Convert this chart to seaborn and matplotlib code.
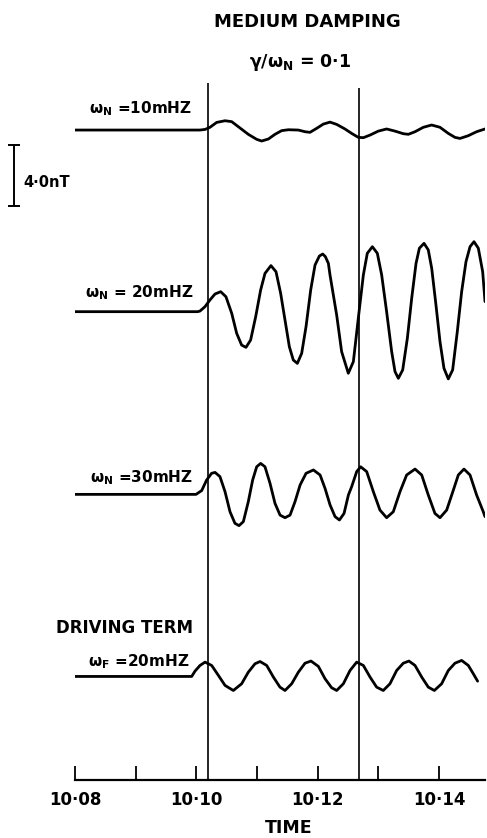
import numpy as np
import pandas as pd
import matplotlib
matplotlib.use('Agg')
import matplotlib.pyplot as plt
import seaborn as sns

# 시간은 10:08:00 이후 초(s), 값은 기준선 대비 nT
t_10 = [0, 123.6, 128.6, 133.5, 140.1, 148.4, 155.0, 161.5, 171.4, 179.7,
        184.6, 191.2, 197.8, 204.4, 211.0, 220.9, 227.5, 232.4, 239.0, 245.6,
        252.2, 258.8, 267.0, 273.6, 280.2, 285.2, 291.8, 300.0, 308.2, 316.5,
        324.7, 329.7, 336.3, 344.5, 352.7, 361.0, 369.2, 375.8, 380.8, 389.0,
        397.2, 405.5]
b_10 = [0, 0, 0.04, 0.18, 0.50, 0.61, 0.55, 0.22, -0.28, -0.61,
        -0.72, -0.59, -0.28, -0.04, 0.02, 0.0, -0.11, -0.15, 0.11, 0.39,
        0.52, 0.37, 0.07, -0.22, -0.48, -0.50, -0.33, -0.07, 0.07, -0.07,
        -0.24, -0.28, -0.11, 0.18, 0.33, 0.18, -0.22, -0.48, -0.55, -0.37,
        -0.11, 0.07]

t_20 = [0, 121.3, 123.6, 128.6, 133.5, 138.5, 144.1, 149.3, 155.0, 159.9,
        164.8, 169.1, 173.7, 178.7, 183.6, 187.9, 193.8, 198.8, 203.4, 207.7,
        212.0, 215.9, 219.9, 224.2, 228.5, 233.1, 237.4, 241.7, 245.0, 247.6,
        250.6,
        252.2, 258.8, 263.7, 270.3, 275.3, 280.2, 285.2, 289.1, 294.1, 299.0,
        303.3, 308.2, 313.2, 316.5, 319.8, 324.1, 328.7, 333.0, 337.3, 340.6,
        345.2, 349.4, 352.8, 357.0, 361.0, 364.9, 369.2, 373.5, 378.1, 382.4,
        386.7, 390.7, 394.6, 398.9, 403.2, 405.5]
b_20 = [0, 0, 0.04, 0.33, 0.77, 1.16, 1.31, 0.98, -0.11, -1.42,
        -2.19, -2.34, -1.86, -0.33, 1.42, 2.51, 3.02, 2.62, 1.20, -0.55,
        -2.30, -3.17, -3.39, -2.73, -0.98, 1.42, 3.06, 3.65, 3.78, 3.61,
        3.17,
        2.41, -0.22, -2.62, -4.04, -3.28, -0.43, 2.41, 3.83, 4.26, 3.83,
        2.41, 0, -2.62, -3.93, -4.37, -3.82, -1.75, 0.88, 3.17, 4.16,
        4.48, 4.05, 2.84, 0.44, -1.97, -3.71, -4.41, -3.82, -1.31, 1.31,
        3.28, 4.26, 4.59, 4.16, 2.62, 0.66]

t_30 = [0, 119.7, 125.3, 130.2, 135.1, 138.5, 143.4, 148.4, 153.3, 158.2,
        162.2, 166.5, 171.4, 175.7, 179.7, 183.6, 187.9, 192.9, 197.8, 202.8,
        207.7, 212.7, 217.6, 222.6, 228.5, 235.8, 242.4, 247.3, 252.3, 257.2,
        261.5, 266.1, 270.4, 273.6, 278.6, 282.5, 288.5, 295.1, 301.6, 308.2,
        314.8, 321.4, 328.0, 336.3, 342.9, 349.4, 356.0, 361.0, 367.6, 374.2,
        379.1, 384.7, 390.7, 397.2, 403.8, 405.5]
b_30 = [0, 0, 0.25, 0.94, 1.38, 1.44, 1.16, 0.17, -1.14, -1.90,
        -2.05, -1.79, -0.48, 0.94, 1.81, 2.03, 1.81, 0.72, -0.59, -1.36,
        -1.53, -1.36, -0.48, 0.61, 1.38, 1.60, 1.27, 0.39, -0.70, -1.46,
        -1.68, -1.25, -0.04, 0.50, 1.49, 1.81, 1.49, 0.17, -1.03, -1.53,
        -1.14, 0.17, 1.27, 1.66, 1.27, -0.04, -1.25, -1.53, -1.03, 0.28,
        1.27, 1.66, 1.27, -0.04, -1.14, -1.46]

t_drive = [0, 115.4, 118.7, 123.6, 128.6, 135.2, 141.8, 148.4, 156.6, 164.8,
           171.4, 178.0, 183.0, 189.6, 196.2, 202.7, 207.7, 214.3, 220.9, 227.5,
           233.4, 240.7, 247.3, 253.8, 258.8, 265.4, 272.0, 278.6, 285.2, 291.8,
           298.3, 304.9, 311.5, 318.1, 324.7, 330.3, 336.3, 342.9, 349.4, 355.4,
           362.6, 369.2, 375.8, 382.4, 389.0, 394.0, 398.2]
b_drive = [0, 0, 0.35, 0.72, 0.94, 0.72, 0.07, -0.59, -0.92, -0.48,
           0.28, 0.83, 0.98, 0.72, -0.04, -0.70, -0.92, -0.48, 0.28, 0.87,
           1.01, 0.66, -0.15, -0.74, -0.92, -0.48, 0.39, 0.94, 0.72, -0.04,
           -0.70, -0.92, -0.48, 0.39, 0.87, 1.01, 0.72, -0.04, -0.70, -0.92,
           -0.48, 0.39, 0.87, 1.05, 0.72, 0.17, -0.31]

marker_times = [131.5, 280.4]          # 세로 기준선 (s)
tick_minor = [60, 180, 300]
tick_major = [0, 120, 240, 360]
tick_labels = ['10·08', '10·10', '10·12', '10·14']
scale_nT = 4.0

# 레이아웃 (픽셀 기준)
W, H = 487, 838
PX_PER_NT = 15.25
trace_base = [42.62, 30.71, 18.73, 6.79]   # 각 트레이스 기준선 (nT)

sns.set_style('white')
plt.rcParams['font.family'] = ['DejaVu Sans']
plt.rcParams['mathtext.default'] = 'bf'
plt.rcParams['text.color'] = 'black'
plt.rcParams['axes.labelcolor'] = 'black'
plt.rcParams['xtick.color'] = 'black'

fig = plt.figure(figsize=(W / 100, H / 100), dpi=100)
ax = fig.add_axes([75 / W, (H - 780) / H, 410 / W, 780 / H])
ax.set_xlim(0, 405.5)
ax.set_ylim(0, 780 / PX_PER_NT)

traces = [(t_10, b_10), (t_20, b_20), (t_30, b_30), (t_drive, b_drive)]
for (t, b), base in zip(traces, trace_base):
    df = pd.DataFrame({'t': t, 'nT': np.array(b) + base})
    sns.lineplot(data=df, x='t', y='nT', color='black', lw=2.0, ax=ax,
                 estimator=None, sort=False, solid_joinstyle='round',
                 solid_capstyle='round')

ax.vlines(marker_times, 0, [45.7, 45.4], color='black', lw=1.2)

# 4.0 nT 스케일 바
ax.plot([-60.3, -60.3], [37.64, 37.64 + scale_nT], color='black', lw=1.4,
        marker='_', ms=9, mew=1.4, clip_on=False)

sns.despine(ax=ax, left=True)
ax.spines['bottom'].set_linewidth(1.6)
ax.spines['bottom'].set_color('black')
ax.set_yticks([])
ax.set_ylabel('')
ax.set_xticks(tick_major, tick_labels, fontweight='bold', fontsize=12)
ax.set_xticks(tick_minor, minor=True)
ax.tick_params(axis='x', which='both', direction='in', length=10, width=1.3,
               pad=8, bottom=True)
ax.set_xlabel('TIME', fontweight='bold', fontsize=12.5)
ax.xaxis.set_label_coords((289 - 75) / 410, -(819 - 780) / 780)


def label(x, y, s, ha='right', size=11):
    fig.text(x / W, 1 - y / H, s, ha=ha, va='baseline', fontsize=size,
             fontweight='bold')


label(307, 27, 'MEDIUM DAMPING', ha='center', size=13)
label(300, 67, 'γ/ω$_{N}$ = 0·1', ha='center', size=12.5)
label(192, 113, 'ω$_{N}$ =10mHZ')
label(23, 187, '4·0nT', ha='left', size=10.5)
label(193, 297, 'ω$_{N}$ = 20mHZ')
label(193, 482, 'ω$_{N}$ =30mHZ')
label(193, 633, 'DRIVING TERM', size=12)
label(189, 666, 'ω$_{F}$ =20mHZ')

fig.savefig('out.png', dpi=100)
